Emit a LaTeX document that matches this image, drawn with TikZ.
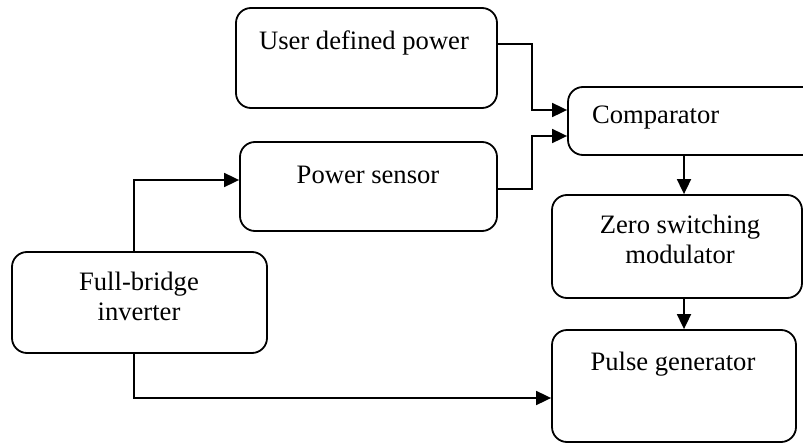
\documentclass[tikz,border=0pt]{standalone}
\usepackage{fontspec}
\setmainfont{Liberation Serif}
\usetikzlibrary{arrows.meta}

\tikzset{
  blk/.style={draw, line width=1.8pt, rounded corners=15pt, inner sep=0pt},
  lbl/.style={font=\fontsize{26.6}{30}\selectfont, align=center, anchor=base, inner sep=0pt},
  wire/.style={line width=1.8pt},
  arr/.style={wire, -{Triangle[length=15pt,width=14pt]}}
}

\begin{document}
\begin{tikzpicture}[x=1pt,y=-1pt]
  \useasboundingbox (0,0) rectangle (803,444);
  \clip (0,0) rectangle (803,444);

  % blocks (centre, size)
  \node[blk, minimum width=261pt, minimum height=100pt] (udp) at (366.5,58) {};
  \node[blk, minimum width=250pt, minimum height=68pt]  (cmp) at (693,121) {};
  \node[blk, minimum width=257pt, minimum height=89pt]  (ps)  at (368.5,186.5) {};
  \node[blk, minimum width=250pt, minimum height=103pt] (zsm) at (677,246.5) {};
  \node[blk, minimum width=255pt, minimum height=101pt] (fbi) at (139.5,302.5) {};
  \node[blk, minimum width=244pt, minimum height=112pt] (pg)  at (674,386) {};

  % labels (two-line labels are anchored on their last baseline)
  \node[lbl] (udp-t) at (364,50)  {User defined power};
  \node[lbl, anchor=base west] (cmp-t) at (592,123) {Comparator};
  \node[lbl] (ps-t)  at (368,183) {Power sensor};
  \node[lbl] (zsm-t) at (680,263) {Zero switching\\modulator};
  \node[lbl] (fbi-t) at (139,320) {Full-bridge\\inverter};
  \node[lbl] (pg-t)  at (673,370) {Pulse generator};

  % routing columns
  \coordinate (bus) at (532,0);
  \coordinate (vcol) at (684,0);
  \coordinate (fcol) at (134,0);

  % connectors
  \draw[arr] ([yshift=14pt]udp.east) -| ([yshift=11pt]cmp.west -| bus) -- ([yshift=11pt]cmp.west);
  \draw[arr] ([yshift=-2.5pt]ps.east) -| ([yshift=-15pt]cmp.west -| bus) -- ([yshift=-15pt]cmp.west);
  \draw[arr] (fbi.north -| fcol) |- ([yshift=6.5pt]ps.west);
  \draw[arr] (fbi.south -| fcol) |- ([yshift=-12pt]pg.west);
  \draw[arr] (cmp.south -| vcol) -- (zsm.north -| vcol);
  \draw[arr] (zsm.south -| vcol) -- (pg.north -| vcol);
\end{tikzpicture}
\end{document}
